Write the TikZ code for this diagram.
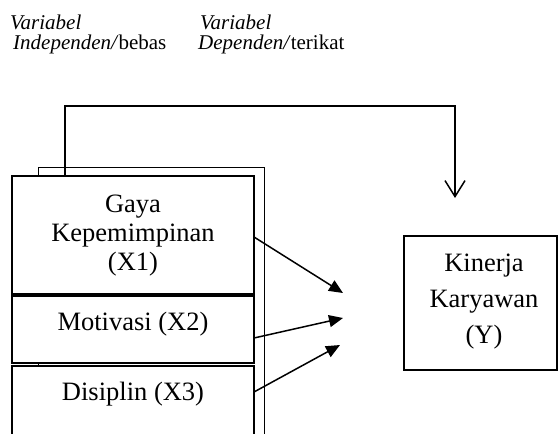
\documentclass[tikz,border=0pt]{standalone}
\usepackage{fontspec}
\setmainfont{Liberation Serif}
\usetikzlibrary{arrows.meta}
\begin{document}
\begin{tikzpicture}[x=1pt,y=-1pt,
  varbox/.style={draw, line width=2pt, fill=white, anchor=north west, inner sep=0pt, outer sep=0pt, minimum width=242pt},
  framebox/.style={draw, line width=1pt, anchor=north west, inner sep=0pt, outer sep=0pt},
  ybox/.style={draw, line width=1.6pt, anchor=north west, inner sep=0pt, outer sep=0pt},
  boxtext/.style={inner sep=0pt, align=center, font=\fontsize{26.5}{29}\selectfont},
  ytext/.style={inner sep=0pt, align=center, font=\fontsize{26.5}{36}\selectfont},
  headtext/.style={inner sep=0pt, anchor=base west, font=\fontsize{21}{24}\selectfont},
  conn/.style={line width=1.5pt},
  solidarrow/.style={conn, -{Triangle[length=14pt,width=12pt]}},
  openarrow/.style={conn, -{Straight Barb[length=16pt,width=20pt]}}
]
\useasboundingbox (0,0) rectangle (558,434);
\clip (0,0) rectangle (558,434);

% header
\node[headtext] (h1) at (10,29) {\textit{Variabel}};
\node[headtext] (h2) at (13,49) {\textit{Independen/}bebas};
\node[headtext] (h3) at (200,29) {\textit{Variabel}};
\node[headtext] (h4) at (198,49) {\textit{Dependen/}terikat};

% frame behind the boxes
\node[framebox, minimum width=226pt, minimum height=290pt] (frame) at (38,167) {};

% independent variable boxes
\node[varbox, minimum height=118pt] (b1) at (12,176) {};
\node[varbox, minimum height=67pt] (b2) at (12,296) {};
\node[varbox, minimum height=90pt] (b3) at (12,366) {};

\node[boxtext] (t1) at (133,236) {Gaya\\Kepemimpinan\\(X1)};
\node[boxtext] (t2) at (133,324) {Motivasi (X2)};
\node[boxtext] (t3) at (133,394) {Disiplin (X3)};

% dependent variable box
\node[ybox, minimum width=153pt, minimum height=134pt] (y) at (404,236) {};
\node[ytext] (ty) at (484,302) {Kinerja\\Karyawan\\(Y)};

% connectors
\coordinate (topstart) at (65,176);
\coordinate (bend) at (455,106);
\coordinate (toptip) at (455,198);
\draw[openarrow] (topstart) |- (bend) -- (toptip);

\coordinate (s1) at (254,237);
\coordinate (e1) at (343,293);
\coordinate (s2) at (254,338);
\coordinate (e2) at (343,318);
\coordinate (s3) at (254,392);
\coordinate (e3) at (340,345);
\draw[solidarrow] (s1) -- (e1);
\draw[solidarrow] (s2) -- (e2);
\draw[solidarrow] (s3) -- (e3);
\end{tikzpicture}
\end{document}
